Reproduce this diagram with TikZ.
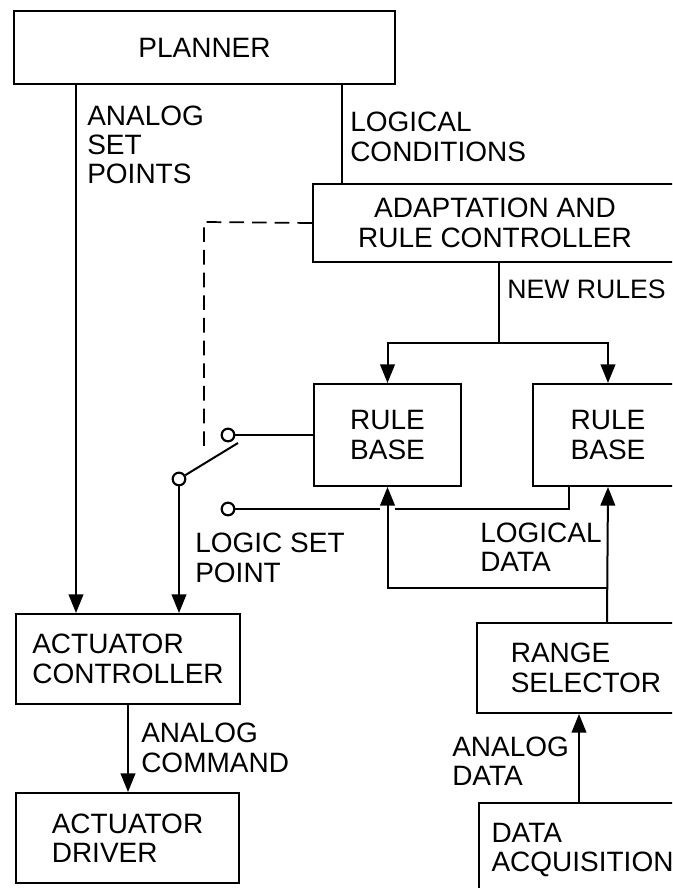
\documentclass[tikz,border=0pt]{standalone}
\usepackage{fontspec}
\setmainfont{Liberation Sans}
\usetikzlibrary{arrows.meta,calc}
\begin{document}
\begin{tikzpicture}[x=0.75pt,y=-0.75pt,
  font=\fontsize{21}{22}\selectfont,
  box/.style={draw, line width=1.5pt, inner sep=0pt, align=center, anchor=north west},
  lbl/.style={inner sep=0pt, anchor=west, align=left},
  wire/.style={line width=1.5pt},
  arr/.style={wire, -{Triangle[length=14pt,width=11pt]}},
  contact/.style={circle, draw, line width=1.6pt, fill=white, minimum size=9.5pt, inner sep=0pt},
  dashwire/.style={line width=1.3pt, dash pattern=on 11pt off 6pt}
]
\useasboundingbox (0,0) rectangle (672,888);
\clip (0,0) rectangle (672,888);

% boxes (sizes in pt = px * 0.75)
\node[box, minimum width=285.75pt, minimum height=54.75pt] (planner) at (13,10) {PLANNER};
\node[box, minimum width=273pt, minimum height=58.5pt] (adapt) at (312,183) {ADAPTATION AND\\RULE CONTROLLER};
\node[box, minimum width=110.25pt, minimum height=76.5pt] (rb1) at (313,383) {RULE\\BASE};
\node[box, minimum width=112.5pt, minimum height=76.5pt] (rb2) at (532,383) {RULE\\BASE};
\node[box, minimum width=168pt, minimum height=67.5pt, align=left] (ac) at (15,613) {ACTUATOR\\CONTROLLER};
\node[box, minimum width=167.25pt, minimum height=67.5pt, align=left] (ad) at (15,792) {ACTUATOR\\DRIVER};
\node[box, minimum width=163.5pt, minimum height=67.5pt, align=left] (rs) at (476,622) {RANGE\\SELECTOR};
\node[box, minimum width=155.25pt, minimum height=70.5pt, align=left] (da) at (478,802) {DATA\\ACQUISITION};

% switch contacts
\node[contact] (c1) at (228,435) {};
\node[contact] (pv) at (179,479) {};
\node[contact] (c2) at (228,509) {};
\coordinate (bladeEnd) at (238,443);

% helper coordinates
\coordinate (aspx) at (76,300);
\coordinate (lcx) at (342,130);
\coordinate (nr) at (499,343);
\coordinate (jn) at (607,588);
\coordinate (lo) at (569,485);
\coordinate (dc) at (204,222);
\coordinate (de) at (204,451);

% planner outputs
\draw[arr] (planner.south -| aspx) -- (ac.north -| aspx);
\draw[wire] (planner.south -| lcx) -- (adapt.north -| lcx);

% new rules
\draw[wire] (adapt.south -| nr) -- (nr);
\draw[arr] (nr) -| (rb1.north);
\draw[arr] (nr) -| (rb2.north);

% dashed mechanical link
\draw[dashwire] (adapt.west) -- (dc) -- (de);

% switch
\draw[wire] (pv) -- (bladeEnd);
\draw[wire] (c1) -- (c1 -| rb1.west);
\draw[wire] (c2) -- (c2 -| lo) -- (lo);
\draw[arr] (pv) -- (pv |- ac.north);

% logical data
\draw[white, line width=11pt] ($(rb1.south)+(0,18)$) -- ($(rb1.south)+(0,30)$);
\draw[arr] (rs.north -| jn) -- (rb2.south);
\draw[arr] (jn) -| (rb1.south);

% analog command / analog data
\draw[arr] (ac.south) -- (ac.south |- ad.north);
\draw[arr] (da.north -| 579,0) -- (rs.south -| 579,0);

% labels
\node[lbl] (l1) at (87,145) {ANALOG\\SET\\POINTS};
\node[lbl] (l2) at (350,137) {LOGICAL\\CONDITIONS};
\node[lbl, font=\fontsize{20}{22}\selectfont] (l3) at (507,289) {NEW RULES};
\node[lbl] (l4) at (195,558) {LOGIC SET\\POINT};
\node[lbl] (l5) at (480,547) {LOGICAL\\DATA};
\node[lbl] (l6) at (141,748) {ANALOG\\COMMAND};
\node[lbl] (l7) at (452,761) {ANALOG\\DATA};
\end{tikzpicture}
\end{document}
